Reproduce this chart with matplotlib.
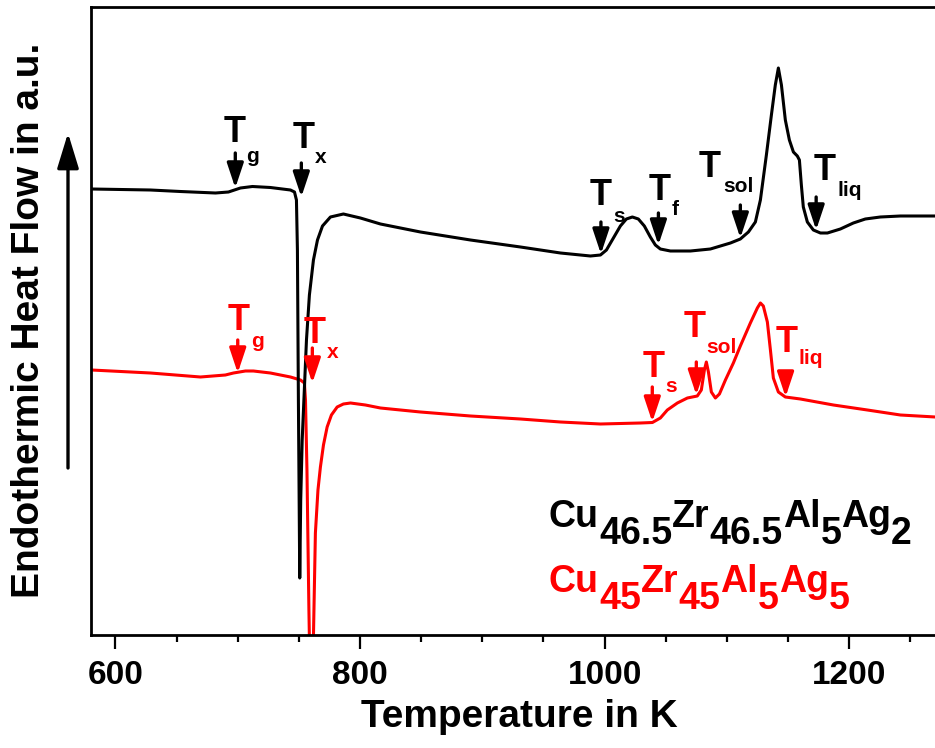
import numpy as np
import matplotlib
matplotlib.use("Agg")
import matplotlib.pyplot as plt
from matplotlib.ticker import MultipleLocator

plt.rcParams['font.family'] = ['Liberation Sans', 'DejaVu Sans']
plt.rcParams['font.weight'] = 'bold'

# DSC scan of Cu46.5Zr46.5Al5Ag2 : temperature (K) / heat flow (a.u.)
temp_a = [580.4, 628.6, 653.1, 681.8, 692.4, 702.2, 712.0, 726.7, 743.1, 746.4,
          748.0, 748.8, 749.6, 750.7, 751.5, 752.7, 754.1, 756.2, 758.6, 761.9,
          765.2, 769.3, 775.8, 786.4, 800.3, 816.7, 849.4, 890.3, 931.2, 963.9,
          988.4, 996.6, 1001.5, 1007.2, 1012.9, 1017.8, 1022.7, 1027.6, 1032.5, 1037.4,
          1041.5, 1045.6, 1053.8, 1070.2, 1086.5, 1102.9, 1111.0, 1117.6, 1123.3, 1127.4,
          1132.3, 1136.4, 1139.6, 1142.1, 1144.6, 1147.8, 1151.1, 1154.4, 1157.6, 1159.3,
          1160.9, 1162.5, 1165.8, 1170.7, 1176.5, 1182.2, 1192.8, 1203.4, 1213.2, 1225.5,
          1241.9, 1270.5]
flow_a = [4.46, 4.45, 4.435, 4.42, 4.43, 4.47, 4.485, 4.475, 4.45, 4.43,
          4.35, 3.85, 2.35, 0.57, 1.35, 1.95, 2.35, 2.95, 3.40, 3.75,
          3.95, 4.09, 4.18, 4.21, 4.17, 4.11, 4.03, 3.95, 3.88, 3.82,
          3.79, 3.80, 3.85, 3.97, 4.09, 4.16, 4.18, 4.16, 4.09, 3.98,
          3.90, 3.86, 3.84, 3.84, 3.86, 3.92, 3.96, 4.03, 4.13, 4.35,
          4.80, 5.20, 5.50, 5.67, 5.50, 5.15, 4.95, 4.83, 4.79, 4.75,
          4.50, 4.28, 4.13, 4.05, 4.02, 4.02, 4.06, 4.12, 4.16, 4.18,
          4.19, 4.19]

# DSC scan of Cu45Zr45Al5Ag5
temp_b = [580.4, 628.6, 669.5, 689.9, 696.5, 706.3, 712.8, 726.7, 743.1, 751.3,
          754.5, 755.4, 756.6, 757.4, 758.2, 758.9, 759.9, 761.7, 763.5, 765.6,
          767.6, 770.1, 773.1, 776.6, 781.3, 786.4, 792.2, 804.4, 816.7, 849.4,
          890.3, 931.2, 963.9, 996.6, 1029.3, 1039.1, 1045.6, 1051.3, 1059.5, 1067.7,
          1075.8, 1079.1, 1081.6, 1083.2, 1084.9, 1087.3, 1090.6, 1093.9, 1098.8, 1105.3,
          1111.0, 1119.2, 1124.9, 1127.4, 1129.8, 1133.1, 1135.6, 1138.0, 1142.1, 1147.8,
          1160.1, 1187.1, 1214.9, 1241.9, 1270.5]
flow_b = [2.65, 2.62, 2.58, 2.60, 2.62, 2.64, 2.64, 2.62, 2.58, 2.55,
          2.52, 2.35, 1.65, 0.95, 0.25, -0.25, -0.65, -0.15, 1.02, 1.45,
          1.68, 1.90, 2.08, 2.20, 2.28, 2.31, 2.32, 2.30, 2.27, 2.23,
          2.19, 2.16, 2.13, 2.11, 2.12, 2.125, 2.17, 2.25, 2.32, 2.37,
          2.39, 2.45, 2.65, 2.73, 2.63, 2.43, 2.37, 2.41, 2.55, 2.72,
          2.89, 3.12, 3.27, 3.32, 3.29, 3.13, 2.85, 2.57, 2.43, 2.38,
          2.36, 2.30, 2.25, 2.20, 2.18]

# characteristic temperatures (arrow tips)
events_a = ['g', 'x', 's', 'f', 'sol', 'liq']
event_temp_a = [698, 752, 997, 1044, 1111, 1173]
event_flow_a = [4.47, 4.38, 3.81, 3.90, 3.97, 4.05]

events_b = ['g', 'x', 's', 'sol', 'liq']
event_temp_b = [700, 761, 1039, 1075, 1148]
event_flow_b = [2.62, 2.52, 2.13, 2.40, 2.38]

# label layout in pixels relative to arrow tip: T dx, T dy, sub dx, sub dy, arrow length
layout_a = [(-1, 46, 11, 26, 35), (2, 49, 14, 34, 34), (0, 49, 12, 32, 32),
            (1, 45, 13, 30, 32), (-31, 61, -17, 46, 33), (8, 50, 21, 34, 33)]
layout_b = [(1, 43, 13, 26, 33), (2, 40, 15, 25, 35), (1, 45, 13, 30, 35),
            (-2, 58, 10, 42, 33), (1, 45, 13, 33, 25)]

formula_a = [('Cu', 0), ('46.5', 1), ('Zr', 0), ('46.5', 1), ('Al', 0), ('5', 1), ('Ag', 0), ('2', 1)]
formula_b = [('Cu', 0), ('45', 1), ('Zr', 0), ('45', 1), ('Al', 0), ('5', 1), ('Ag', 0), ('5', 1)]

RED = '#ff0000'

fig = plt.figure(figsize=(9.35, 7.48), dpi=100)
ax = fig.add_axes([91 / 935, 113 / 748, 856 / 935, 628 / 748])

ax.plot(temp_b, flow_b, color=RED, lw=2.2)
ax.plot(temp_a, flow_a, color='black', lw=2.2)

ax.set_xlim(580, 1280)
ax.set_ylim(0, 6.28)
ax.set_xticks([600, 800, 1000, 1200])
ax.xaxis.set_minor_locator(MultipleLocator(50))
ax.set_yticks([])
ax.tick_params(axis='x', which='major', direction='out', length=10, width=1.6,
               labelsize=24, pad=8)
ax.tick_params(axis='x', which='minor', direction='out', length=5, width=1.6)
for side in ['left', 'bottom', 'top']:
    ax.spines[side].set_linewidth(2)
ax.spines['right'].set_visible(False)


def mark(names, temps, flows, layout, color):
    for name, t, f, (tdx, tdy, sdx, sdy, alen) in zip(names, temps, flows, layout):
        ax.annotate('', xy=(t, f), xytext=(0, alen), textcoords='offset pixels',
                    arrowprops=dict(arrowstyle='-|>,head_length=1.5,head_width=0.5',
                                    mutation_scale=10, lw=2.4, color=color,
                                    shrinkA=0, shrinkB=0))
        ax.annotate('T', xy=(t, f), xytext=(tdx, tdy), textcoords='offset pixels',
                    ha='center', va='baseline', fontsize=26, color=color)
        ax.annotate(name, xy=(t, f), xytext=(sdx, sdy), textcoords='offset pixels',
                    ha='left', va='baseline', fontsize=15, color=color)


mark(events_a, event_temp_a, event_flow_a, layout_a, 'black')
mark(events_b, event_temp_b, event_flow_b, layout_b, RED)


def formula(parts, x, y, color, drop=17):
    # chain text pieces; subscripts keep full size but sit lower
    prev = None
    level = 0
    for text, sub in parts:
        if prev is None:
            prev = ax.annotate(text, xy=(x, y), xycoords='figure pixels',
                               ha='left', va='baseline', fontsize=27, color=color)
        else:
            dy = -drop if sub > level else (drop if sub < level else 0)
            prev = ax.annotate(text, xy=(1, 0), xycoords=prev,
                               xytext=(0, dy), textcoords='offset pixels',
                               ha='left', va='bottom', fontsize=27, color=color)
        level = sub


formula(formula_a, 549, 748 - 527, 'black')
formula(formula_b, 549, 748 - 592, RED)

# axis labels
fig.text(519 / 935, 21 / 748, 'Temperature in K', ha='center', va='baseline', fontsize=28)
fig.text(29 / 935, 1 - 320 / 748, 'Endothermic Heat Flow in a.u.', rotation=90,
         ha='center', va='center', fontsize=28)
ax.annotate('', xy=(68, 748 - 133), xycoords='figure pixels',
            xytext=(68, 748 - 468), textcoords='figure pixels',
            arrowprops=dict(arrowstyle='-|>,head_length=1.8,head_width=0.55',
                            mutation_scale=12, lw=2.4, color='black',
                            shrinkA=0, shrinkB=0))

fig.savefig('out.png', dpi=100)
